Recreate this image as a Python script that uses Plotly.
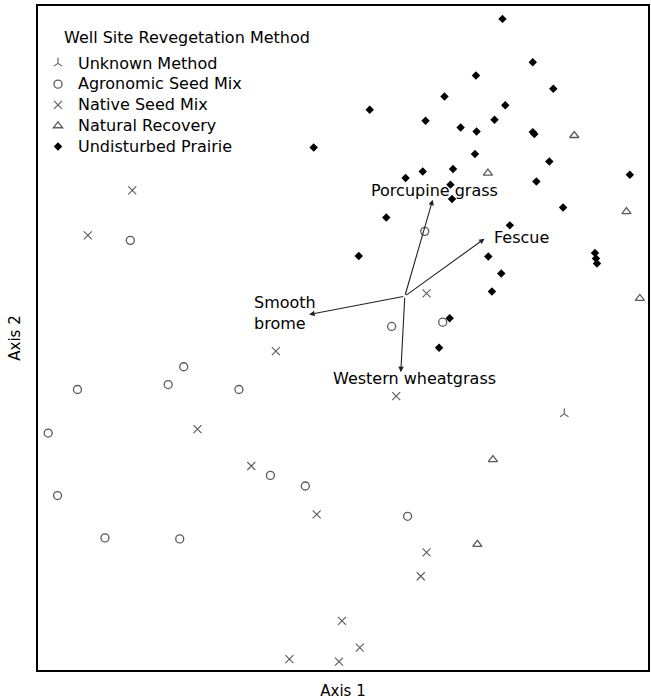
import plotly.graph_objects as go

# ---- NMS ordination scores (Axis 1, Axis 2) by revegetation method ----
unknown_x = [1.11]
unknown_y = [-0.38]

agronomic_x = [-1.067, 0.41, 0.244, 0.50, -0.799, -0.877, -1.332, -0.522, -1.479,
               -0.364, -0.189, -1.432, -1.194, -0.819, 0.324]
agronomic_y = [0.489, 0.534, 0.058, 0.079, -0.144, -0.233, -0.258, -0.258, -0.476,
               -0.688, -0.741, -0.789, -1.001, -1.006, -0.893]

native_x = [-1.057, -1.28, 0.419, -0.337, 0.267, -0.73, -0.46, -0.132, 0.419, 0.39,
            -0.005, 0.084, -0.269, -0.02]
native_y = [0.739, 0.514, 0.223, -0.066, -0.291, -0.456, -0.641, -0.883, -1.073, -1.193,
            -1.416, -1.551, -1.608, -1.621]

natural_x = [1.16, 0.727, 1.422, 1.489, 0.752, 0.674]
natural_y = [1.014, 0.826, 0.633, 0.198, -0.609, -1.033]

prairie_x = [0.80, 0.952, 0.667, 1.055, 0.509, 0.134, 0.814, 0.414, 0.76, 0.59, 0.67,
             0.952, 0.96, -0.147, 0.662, 1.035, 0.314, 0.40, 0.552, 0.539, 0.547, 0.97,
             1.439, 0.217, 0.837, 1.104, 0.079, 0.729, 1.264, 1.269, 1.274, 0.794,
             0.747, 0.535, 0.482]
prairie_y = [1.598, 1.381, 1.314, 1.248, 1.209, 1.143, 1.166, 1.088, 1.093, 1.054, 1.034,
             1.031, 1.021, 0.954, 0.921, 0.884, 0.801, 0.834, 0.846, 0.768, 0.696, 0.784,
             0.818, 0.603, 0.564, 0.654, 0.411, 0.408, 0.426, 0.398, 0.373, 0.323,
             0.233, 0.099, -0.049]

# ---- species vectors (biplot) ----
vector_origin = (0.31, 0.209)
species = ["Porcupine grass", "Fescue", "Smooth<br>brome", "Western wheatgrass"]
species_x = [0.45, 0.71, -0.17, 0.29]
species_y = [0.6925, 0.4975, 0.1175, -0.171]

legend_title = "Well Site Revegetation Method"
axis_titles = ["Axis 1", "Axis 2"]

FONT = "DejaVu Sans"
GRAY = "#5a5a5a"

fig = go.Figure()

def item(name):
    return '<span style="font-size:16px">' + name + '</span>'

fig.add_trace(go.Scatter(x=unknown_x, y=unknown_y, mode="markers", name=item("Unknown Method"),
                         marker=dict(symbol="y-up", size=7, color=GRAY,
                                     line=dict(color=GRAY, width=1.1))))
fig.add_trace(go.Scatter(x=agronomic_x, y=agronomic_y, mode="markers", name=item("Agronomic Seed Mix"),
                         marker=dict(symbol="circle-open", size=8, color=GRAY,
                                     line=dict(color=GRAY, width=1.3))))
fig.add_trace(go.Scatter(x=native_x, y=native_y, mode="markers", name=item("Native Seed Mix"),
                         marker=dict(symbol="x-thin-open", size=8, color=GRAY,
                                     line=dict(color=GRAY, width=1.1))))
fig.add_trace(go.Scatter(x=natural_x, y=natural_y, mode="markers", name=item("Natural Recovery"),
                         marker=dict(symbol="triangle-up-open", size=8, color=GRAY,
                                     line=dict(color=GRAY, width=1.3))))
fig.add_trace(go.Scatter(x=prairie_x, y=prairie_y, mode="markers", name=item("Undisturbed Prairie"),
                         marker=dict(symbol="diamond", size=6.5, color="black",
                                     line=dict(width=0))))

# arrows
for sx, sy in zip(species_x, species_y):
    fig.add_annotation(x=sx, y=sy, ax=vector_origin[0], ay=vector_origin[1],
                       xref="x", yref="y", axref="x", ayref="y",
                       showarrow=True, arrowhead=2, arrowsize=1, arrowwidth=1.1,
                       arrowcolor="#222222", text="")

# vector labels
label_pos = [(0.46, 0.7375, "center"), (0.745, 0.5025, "left"),
             (-0.4565, 0.125, "left"), (0.359, -0.2025, "center")]
for name, (lx, ly, anc) in zip(species, label_pos):
    fig.add_annotation(x=lx, y=ly, xref="x", yref="y", text=name, showarrow=False,
                       xanchor=anc, yanchor="middle", align="left",
                       font=dict(family=FONT, size=16, color="black"))

W, H = 651, 700
L, R, T, B = 38, 1, 6, 29
pw, ph = W - L - R, H - T - B

# legend title (pixel position converted to paper coords)
fig.add_annotation(x=(62 - L) / pw, y=(H - B - 38) / ph, xref="paper", yref="paper",
                   text=legend_title, showarrow=False, xanchor="left", yanchor="middle",
                   font=dict(family=FONT, size=16, color="black"))

fig.update_layout(
    width=W, height=H,
    margin=dict(l=L, r=R, t=T, b=B, pad=0),
    paper_bgcolor="white", plot_bgcolor="white",
    font=dict(family=FONT, size=15, color="black"),
    showlegend=True,
    legend=dict(x=0.0, y=(H - B - 48) / ph, xanchor="left", yanchor="top",
                bgcolor="rgba(0,0,0,0)", borderwidth=0, itemwidth=30,
                font=dict(family=FONT, size=13.7, color="black"),
                tracegroupgap=0),
    xaxis=dict(range=[-1.53, 1.53], showgrid=False, zeroline=False, showticklabels=False,
               ticks="", showline=True, mirror=True, linecolor="black", linewidth=2,
               title=dict(text=axis_titles[0], font=dict(family=FONT, size=15), standoff=18)),
    yaxis=dict(range=[-1.6625, 1.6625], showgrid=False, zeroline=False, showticklabels=False,
               ticks="", showline=True, mirror=True, linecolor="black", linewidth=2,
               title=dict(text=axis_titles[1], font=dict(family=FONT, size=15), standoff=12)),
)

fig.write_html("out.html")
